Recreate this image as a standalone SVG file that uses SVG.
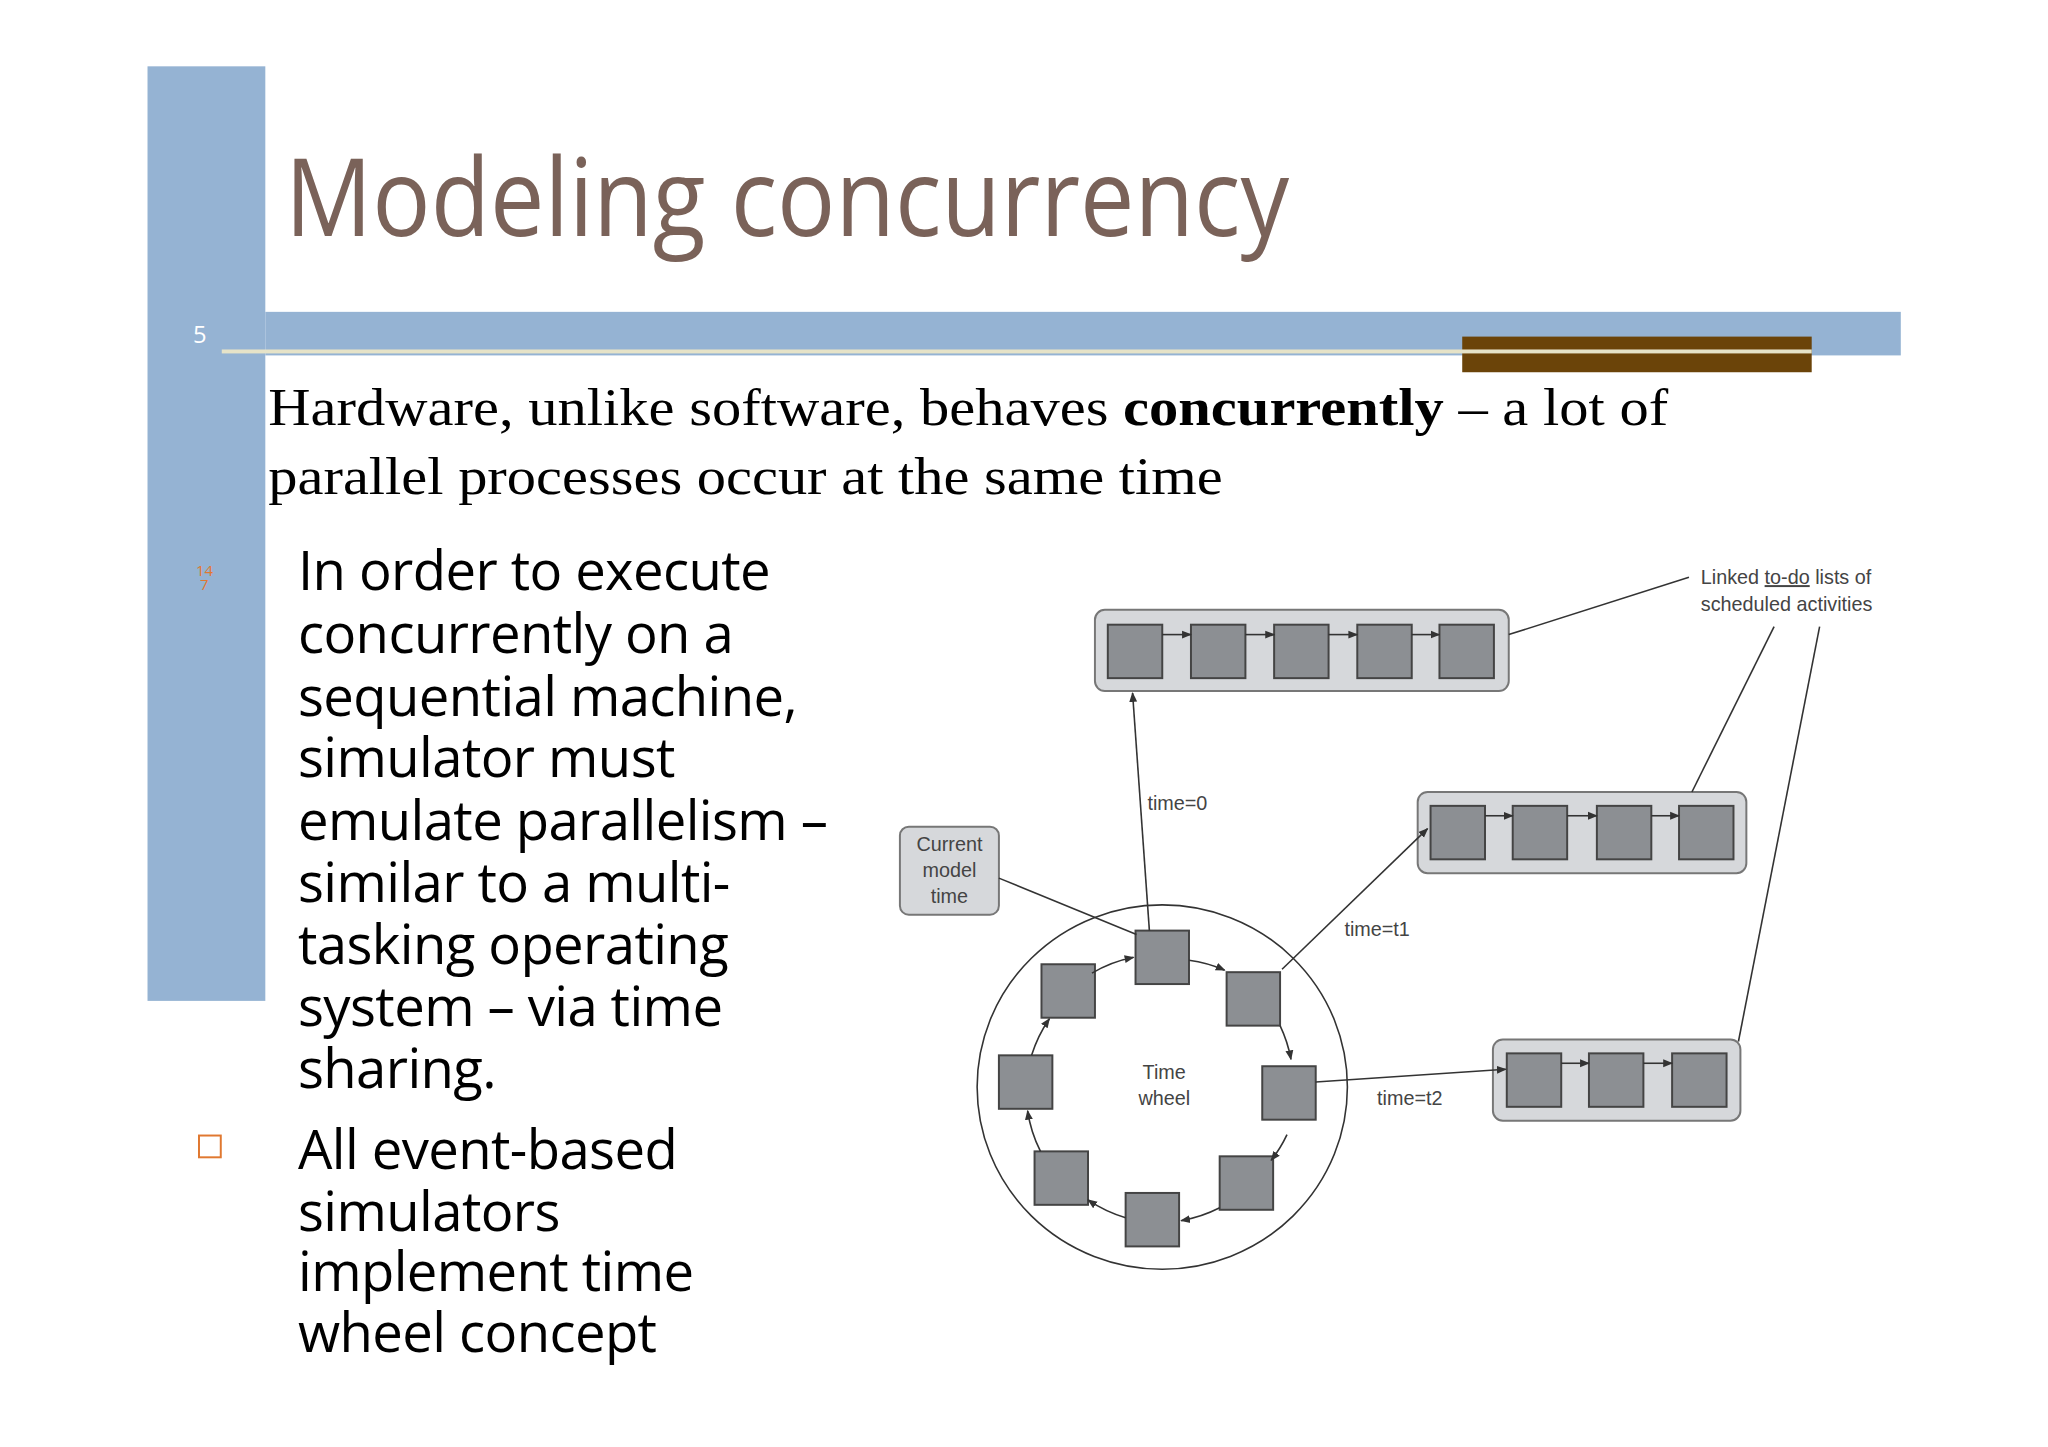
<svg xmlns="http://www.w3.org/2000/svg" width="2048" height="1447" viewBox="0 0 2048 1447">
<defs>
<marker id="ah" viewBox="0 0 10 10" refX="9" refY="5" markerWidth="10" markerHeight="10" markerUnits="userSpaceOnUse" orient="auto"><path d="M0,1 L10,5 L0,9 z" fill="#333"/></marker>
<style>
.sq{fill:#8c8f93;stroke:#444;stroke-width:2}
.lst{fill:#d6d8db;stroke:#777;stroke-width:2}
.ln{stroke:#333;stroke-width:1.6;fill:none}
.a{stroke:#333;stroke-width:1.6;fill:none;marker-end:url(#ah)}
.lbl{font-family:"Liberation Sans",Arial,sans-serif;font-size:20px;fill:#444}
.bt{font-family:"Open Sans",sans-serif;font-size:55px;fill:#000;letter-spacing:-0.6px}
</style>
</defs>
<rect width="2048" height="1447" fill="#fff"/>
<g transform="scale(0.99)">
<g id="deco">
<rect x="149" y="67" width="119" height="944" fill="#95b3d3"/>
<rect x="268" y="315" width="1652" height="44" fill="#95b3d3"/>
<rect x="1477" y="340" width="353" height="36" fill="#6b4409"/>
<rect x="224" y="353" width="1606" height="4" fill="#e6e3c8"/>
<text x="195" y="346" font-family="Open Sans,sans-serif" font-size="24" fill="#fff">5</text>
<text x="198" y="582" font-family="Open Sans,sans-serif" font-size="15" fill="#e07830">14</text>
<text x="202" y="596" font-family="Open Sans,sans-serif" font-size="15" fill="#e07830">7</text>
<rect x="201" y="1147" width="22" height="22" fill="none" stroke="#e07830" stroke-width="2"/>
</g>
<text x="288" y="238" font-family="Open Sans,sans-serif" font-size="110" fill="#7a6259" textLength="1014" lengthAdjust="spacingAndGlyphs">Modeling concurrency</text>
<g font-family="Liberation Serif,serif" font-size="54" fill="#000">
<text x="271" y="429" textLength="1414" lengthAdjust="spacingAndGlyphs">Hardware, unlike software, behaves <tspan font-weight="bold">concurrently</tspan> – a lot of</text>
<text x="271" y="499" textLength="964" lengthAdjust="spacingAndGlyphs">parallel processes occur at the same time</text>
</g>
<g class="bt">
<text x="301" y="596">In order to execute</text>
<text x="301" y="660">concurrently on a</text>
<text x="301" y="723">sequential machine,</text>
<text x="301" y="785">simulator must</text>
<text x="301" y="849">emulate parallelism –</text>
<text x="301" y="911">similar to a multi-</text>
<text x="301" y="974">tasking operating</text>
<text x="301" y="1036">system – via time</text>
<text x="301" y="1099">sharing.</text>
<text x="301" y="1181">All event-based</text>
<text x="301" y="1243">simulators</text>
<text x="301" y="1304">implement time</text>
<text x="301" y="1366">wheel concept</text>
</g>
<g id="wheel">
<ellipse cx="1174" cy="1098" rx="187" ry="184" fill="none" stroke="#333" stroke-width="1.6"/>
<text class="lbl" x="1176" y="1090" text-anchor="middle">Time</text>
<text class="lbl" x="1176" y="1116" text-anchor="middle">wheel</text>
<rect class="sq" x="1147" y="940" width="54" height="54"/>
<rect class="sq" x="1239" y="982" width="54" height="54"/>
<rect class="sq" x="1275" y="1077" width="54" height="54"/>
<rect class="sq" x="1232" y="1168" width="54" height="54"/>
<rect class="sq" x="1137" y="1205" width="54" height="54"/>
<rect class="sq" x="1045" y="1163" width="54" height="54"/>
<rect class="sq" x="1009" y="1066" width="54" height="54"/>
<rect class="sq" x="1052" y="974" width="54" height="54"/>
</g>
<g id="current">
<rect x="909" y="835" width="100" height="89" rx="9" fill="#d6d8db" stroke="#777" stroke-width="2"/>
<text class="lbl" x="959" y="860" text-anchor="middle">Current</text>
<text class="lbl" x="959" y="886" text-anchor="middle">model</text>
<text class="lbl" x="959" y="912" text-anchor="middle">time</text>
</g>
<g id="list0">
<rect class="lst" x="1106" y="616" width="418" height="82" rx="10"/>
<rect class="sq" x="1119" y="631" width="55" height="54"/>
<rect class="sq" x="1203" y="631" width="55" height="54"/>
<rect class="sq" x="1287" y="631" width="55" height="54"/>
<rect class="sq" x="1371" y="631" width="55" height="54"/>
<rect class="sq" x="1454" y="631" width="55" height="54"/>
</g>
<g id="list1">
<rect class="lst" x="1432" y="800" width="332" height="82" rx="10"/>
<rect class="sq" x="1445" y="814" width="55" height="54"/>
<rect class="sq" x="1528" y="814" width="55" height="54"/>
<rect class="sq" x="1613" y="814" width="55" height="54"/>
<rect class="sq" x="1696" y="814" width="55" height="54"/>
</g>
<g id="list2">
<rect class="lst" x="1508" y="1050" width="250" height="82" rx="10"/>
<rect class="sq" x="1522" y="1064" width="55" height="54"/>
<rect class="sq" x="1605" y="1064" width="55" height="54"/>
<rect class="sq" x="1689" y="1064" width="55" height="54"/>
</g>
<g id="note">
<text class="lbl" x="1718" y="590">Linked <tspan text-decoration="underline">to-do</tspan> lists of</text>
<text class="lbl" x="1718" y="617">scheduled activities</text>
</g>
<g id="connectors">
<line class="a" x1="1174" y1="641" x2="1203" y2="641"/>
<line class="a" x1="1258" y1="641" x2="1287" y2="641"/>
<line class="a" x1="1342" y1="641" x2="1371" y2="641"/>
<line class="a" x1="1426" y1="641" x2="1454" y2="641"/>
<line class="a" x1="1500" y1="824" x2="1528" y2="824"/>
<line class="a" x1="1583" y1="824" x2="1613" y2="824"/>
<line class="a" x1="1668" y1="824" x2="1696" y2="824"/>
<line class="a" x1="1577" y1="1074" x2="1605" y2="1074"/>
<line class="a" x1="1660" y1="1074" x2="1689" y2="1074"/>
<path class="a" d="M1201,970 A135,135 0 0 1 1237,980"/>
<path class="a" d="M1293,1036 A135,135 0 0 1 1304,1070"/>
<path class="a" d="M1300,1146 A135,135 0 0 1 1284,1172"/>
<path class="a" d="M1232,1220 A135,135 0 0 1 1193,1233"/>
<path class="a" d="M1137,1230 A135,135 0 0 1 1099,1212"/>
<path class="a" d="M1051,1163 A135,135 0 0 1 1038,1122"/>
<path class="a" d="M1042,1066 A135,135 0 0 1 1060,1029"/>
<path class="a" d="M1103,983 A135,135 0 0 1 1145,967"/>
<line class="a" x1="1161" y1="940" x2="1144" y2="700"/>
<line class="a" x1="1295" y1="979" x2="1442" y2="837"/>
<line class="a" x1="1329" y1="1093" x2="1521" y2="1080"/>
<line class="ln" x1="1009" y1="887" x2="1148" y2="944"/>
<line class="ln" x1="1706" y1="583" x2="1524" y2="641"/>
<line class="ln" x1="1792" y1="633" x2="1709" y2="800"/>
<line class="ln" x1="1838" y1="633" x2="1756" y2="1052"/>
<text class="lbl" x="1159" y="818">time=0</text>
<text class="lbl" x="1358" y="945">time=t1</text>
<text class="lbl" x="1391" y="1116">time=t2</text>
</g>
</g>
</svg>
